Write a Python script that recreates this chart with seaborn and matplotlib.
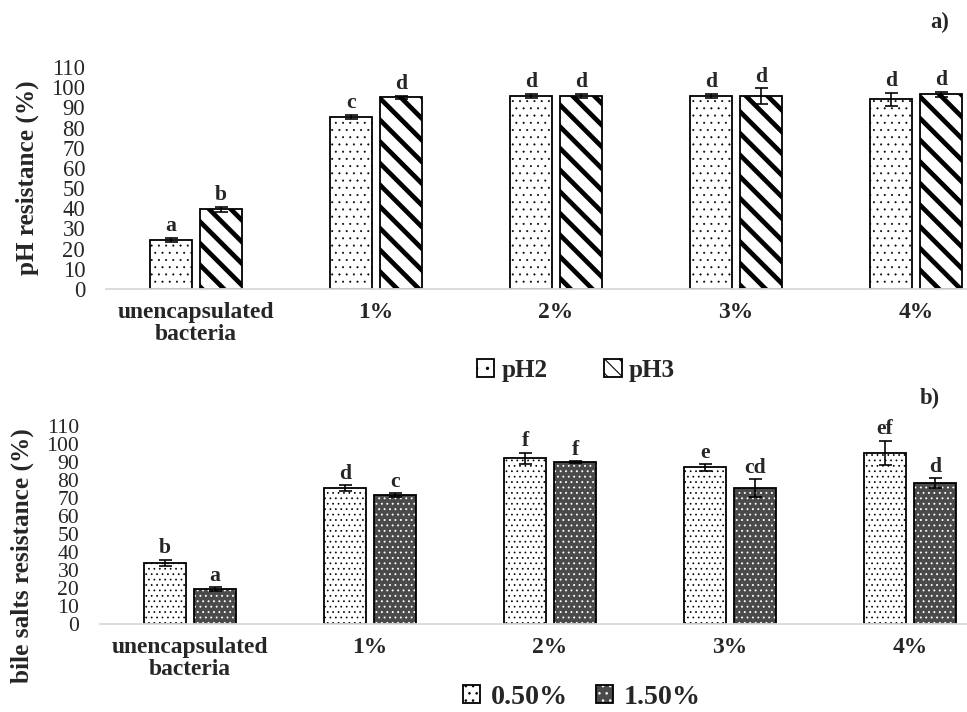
import numpy as np
import pandas as pd
import seaborn as sns
import matplotlib.pyplot as plt
from matplotlib.patches import Patch, Rectangle

# Data
groups = ['unencapsulated\nbacteria', '1%', '2%', '3%', '4%']

ph2 = [24.5, 85.2, 95.6, 95.6, 93.9]
ph2_err = [1.0, 1.2, 1.0, 1.0, 3.2]
ph2_letters = ['a', 'c', 'd', 'd', 'd']
ph3 = [39.5, 94.9, 95.6, 95.6, 96.4]
ph3_err = [1.2, 0.8, 1.0, 3.8, 1.2]
ph3_letters = ['b', 'd', 'd', 'd', 'd']

bile05 = [34.0, 75.5, 92.0, 87.0, 95.2]
bile05_err = [1.7, 1.7, 3.1, 1.8, 6.6]
bile05_letters = ['b', 'd', 'f', 'e', 'ef']
bile15 = [19.5, 71.5, 90.0, 75.5, 78.2]
bile15_err = [1.0, 1.2, 0.5, 5.0, 2.8]
bile15_letters = ['a', 'c', 'f', 'cd', 'd']

yticks = list(range(0, 111, 10))

sns.set_style('white')
plt.rcParams['font.family'] = ['Liberation Serif', 'DejaVu Serif']
plt.rcParams['hatch.linewidth'] = 0.6

dpi = 130
W, H = 967, 712
fig = plt.figure(figsize=(W / dpi, H / dpi), dpi=dpi)


def hatch_lw(p, lw):
    if hasattr(p, 'set_hatch_linewidth'):
        p.set_hatch_linewidth(lw)


def panel(rect, s1, e1, l1, s2, e2, l2, names, colors, xright, ysize):
    ax = fig.add_axes(rect)
    df = pd.DataFrame({
        'group': groups * 2,
        'value': s1 + s2,
        'series': [names[0]] * 5 + [names[1]] * 5,
    })
    sns.barplot(data=df, x='group', y='value', hue='series', order=groups,
                hue_order=names, palette=colors, saturation=1,
                edgecolor='black', linewidth=1.0, width=0.556, gap=0.16,
                errorbar=None, legend=False, ax=ax)
    for cont, vals, errs, lets in zip(ax.containers, [s1, s2], [e1, e2], [l1, l2]):
        xs = [p.get_x() + p.get_width() / 2 for p in cont.patches]
        ax.errorbar(xs, vals, yerr=errs, fmt='none', ecolor='black',
                    elinewidth=0.9, capsize=3.6, capthick=0.9, zorder=5)
        for x, v, e, t in zip(xs, vals, errs, lets):
            ax.text(x, v + e + 0.8, t, ha='center', va='bottom',
                    fontsize=12, fontweight='bold', clip_on=False)
    ax.set_ylim(0, 110)
    ax.set_xlim(-0.5, xright)
    ax.set_yticks(yticks)
    ax.set_xlabel('')
    ax.set_ylabel('')
    for s in ['top', 'right', 'left']:
        ax.spines[s].set_visible(False)
    ax.spines['bottom'].set_color('#d9d9d9')
    ax.spines['bottom'].set_linewidth(1.0)
    ax.tick_params(axis='y', length=0, pad=11.5, labelsize=ysize)
    ax.tick_params(axis='x', length=0, pad=7, labelsize=13)
    for lab in ax.get_xticklabels():
        lab.set_fontweight('bold')
        lab.set_linespacing(1.1)
    return ax


# a) pH resistance
ax1 = panel([106 / W, 1 - 289 / H, 1 - 106 / W, 222 / H],
            ph2, ph2_err, ph2_letters, ph3, ph3_err, ph3_letters,
            ['pH2', 'pH3'], ['white', 'white'], (967 - 196) / 180, 12.5)
for p in ax1.containers[0].patches:
    p.set_hatch('...')
    hatch_lw(p, 0.3)
for p in ax1.containers[1].patches:
    p.set_hatch('\\\\')
    hatch_lw(p, 2.6)

# b) bile salts resistance
ax2 = panel([100 / W, 1 - 624 / H, 1 - 100 / W, 198 / H],
            bile05, bile05_err, bile05_letters, bile15, bile15_err, bile15_letters,
            ['0.50%', '1.50%'], ['white', '#4a4a4a'], (967 - 190) / 180, 12)
for p in ax2.containers[0].patches:
    p.set_hatch('....')
    hatch_lw(p, 0.4)
for p in ax2.containers[1].patches:
    p.set_edgecolor('white')
    p.set_linewidth(0)
    p.set_hatch('....')
    hatch_lw(p, 0.5)
    ax2.add_patch(Rectangle((p.get_x(), p.get_y()), p.get_width(), p.get_height(),
                            fill=False, edgecolor='black', linewidth=1.0, zorder=p.get_zorder()))

# axis titles and panel tags
fig.text(27 / W, 1 - 178 / H, 'pH resistance (%)', rotation=90, ha='center',
         va='center', fontsize=14, fontweight='bold')
fig.text(22 / W, 1 - 556 / H, 'bile salts resistance (%)', rotation=90, ha='center',
         va='center', fontsize=14, fontweight='bold')
fig.text(940 / W, 1 - 22 / H, 'a)', ha='center', va='center', fontsize=12.5, fontweight='bold')
fig.text(930 / W, 1 - 398 / H, 'b)', ha='center', va='center', fontsize=12.5, fontweight='bold')

# legends
h_ph2 = Patch(facecolor='white', edgecolor='black', hatch='..', linewidth=1.0)
h_ph3 = Patch(facecolor='white', edgecolor='black', hatch='\\\\\\', linewidth=1.0)
hatch_lw(h_ph3, 1.8)
fig.legend([h_ph2, h_ph3], ['pH2', 'pH3'], loc='center',
           bbox_to_anchor=(576 / W, 1 - 370 / H), ncol=2, frameon=False,
           handlelength=0.7, handleheight=0.7, handletextpad=0.3, columnspacing=2.2,
           prop={'weight': 'bold', 'size': 14})

h_05 = Patch(facecolor='white', edgecolor='black', hatch='...', linewidth=1.0)
h_15a = Patch(facecolor='#4a4a4a', edgecolor='white', hatch='...', linewidth=0)
h_15b = Patch(facecolor='none', edgecolor='black', linewidth=1.0)
fig.legend([h_05, (h_15a, h_15b)], ['0.50%', '1.50%'], loc='center',
           bbox_to_anchor=(582 / W, 1 - 697 / H), ncol=2, frameon=False,
           handlelength=0.6, handleheight=0.6, handletextpad=0.4, columnspacing=1.0,
           prop={'weight': 'bold', 'size': 15.5})

fig.savefig('out.png', dpi=dpi)
